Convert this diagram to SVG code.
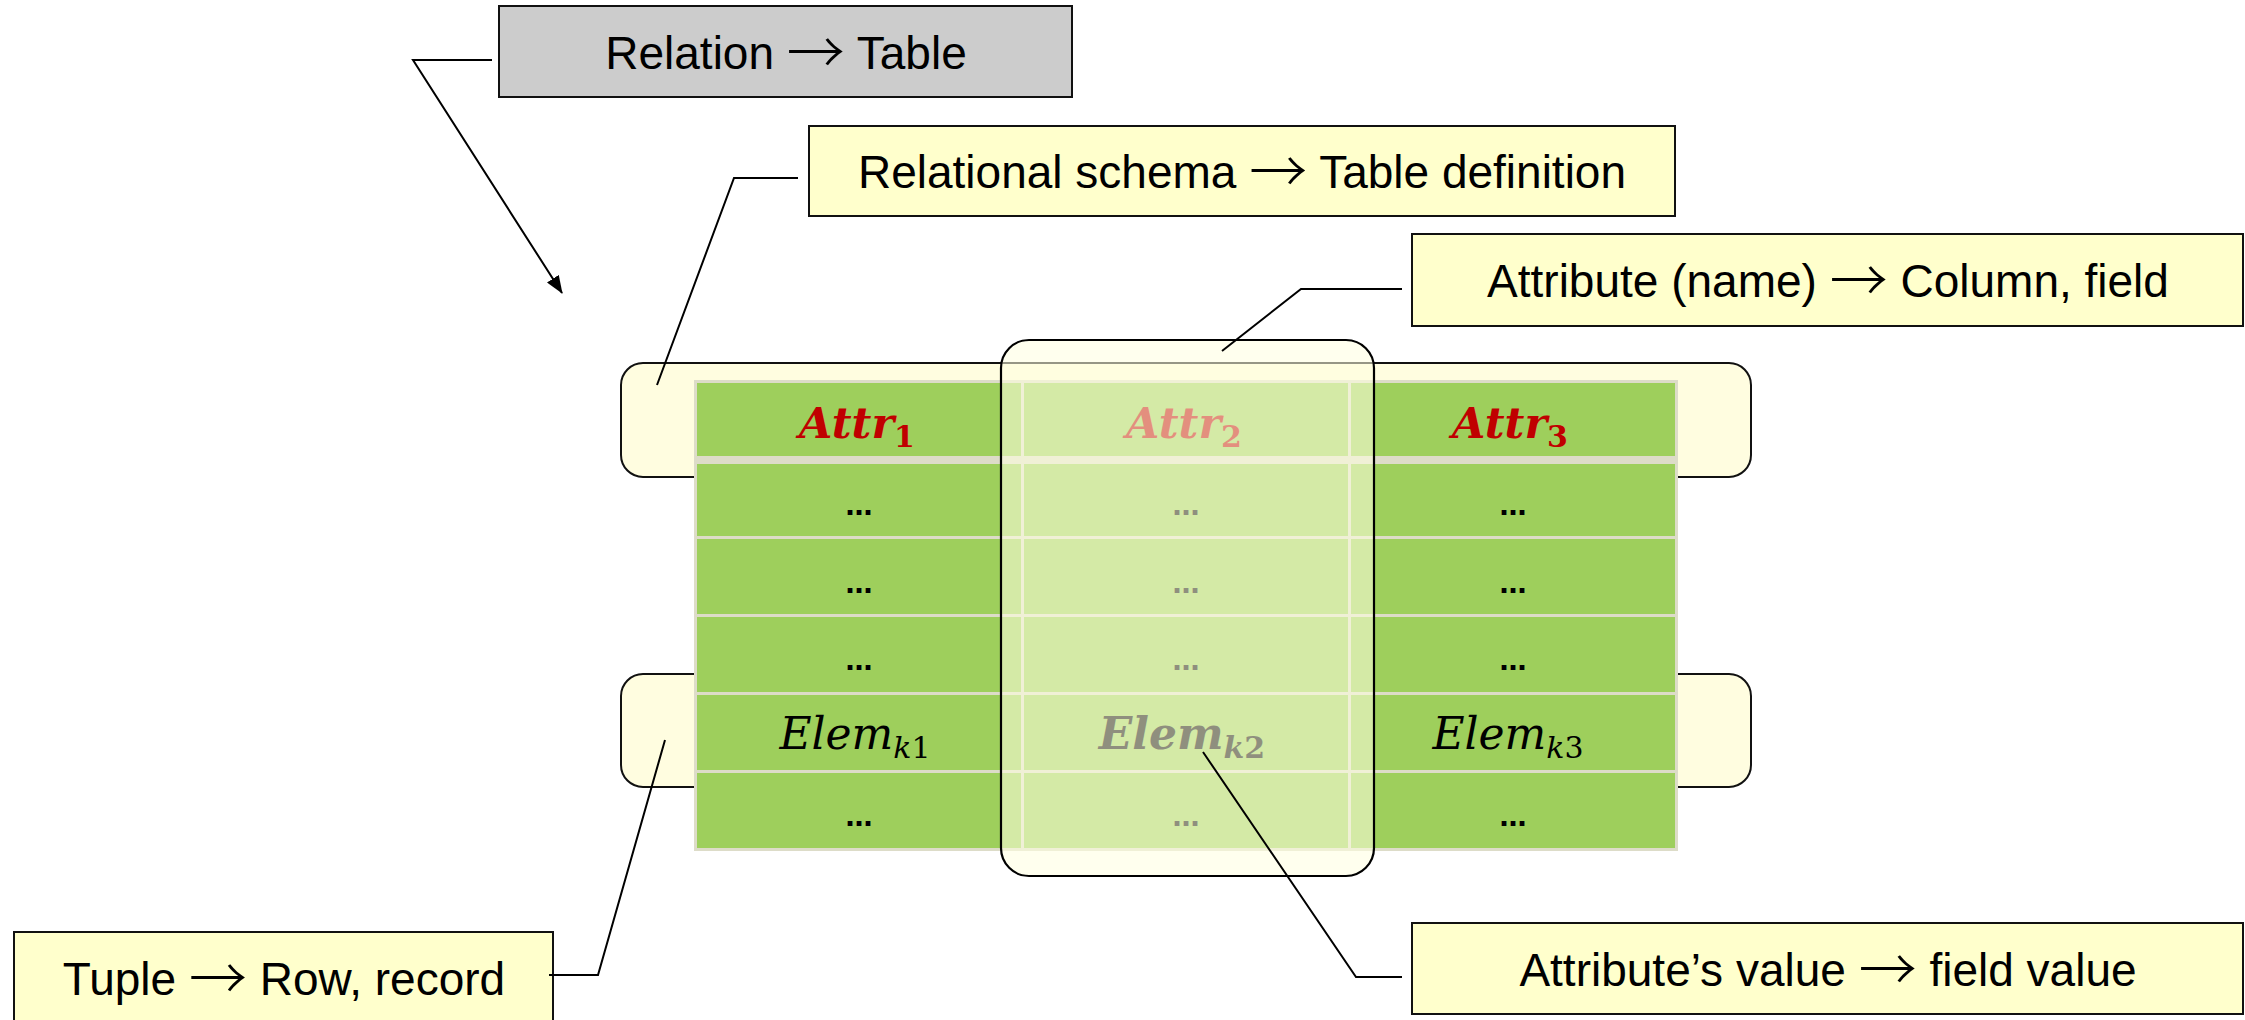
<svg xmlns="http://www.w3.org/2000/svg" width="2245" height="1020" viewBox="0 0 2245 1020">
  <defs>
    <marker id="arrowBig" viewBox="0 0 18 14" refX="17" refY="7" markerWidth="18" markerHeight="14" markerUnits="userSpaceOnUse" orient="auto">
      <path d="M0,0 L18,7 L0,14 Z" fill="#000"/>
    </marker>
  </defs>
  <style>
    .callout { fill: #FFFFCC; stroke: #111; stroke-width: 2; }
    .callout-gray { fill: #CCCCCC; stroke: #111; stroke-width: 2; }
    .label { font-family: "Liberation Sans", Arial, sans-serif; font-size: 46px; fill: #000; text-anchor: middle; }
    .arr { font-family: "Noto Sans CJK SC", "DejaVu Sans", sans-serif; font-weight: 300; font-size: 58px; }
    .band { fill: #FFFDE0; stroke: #111; stroke-width: 2; }
    .cells { fill: #88CB38; fill-opacity: 0.75; }
    .grid { stroke: #DDDCC8; fill: none; }
    .head { font-family: "DejaVu Serif", "Liberation Serif", serif; font-style: italic; font-weight: bold; font-size: 43px; fill: #C00000; text-anchor: middle; }
    .elem { font-family: "DejaVu Serif", "Liberation Serif", serif; font-style: italic; font-size: 44px; fill: #000; text-anchor: middle; }
    .elem-b { font-weight: bold; }
    .dots { font-family: "DejaVu Sans", "Liberation Sans", sans-serif; font-weight: bold; font-size: 27px; fill: #000; text-anchor: middle; }
    .sub { font-size: 30px; font-style: normal; }
    .subk { font-size: 30px; }
    .column { fill: #FFFFE0; fill-opacity: 0.56; stroke: #000; stroke-width: 2.2; }
    .conn { fill: none; stroke: #000; stroke-width: 2; }
  </style>

  <!-- row highlight bands, sitting behind the table -->
  <g id="tuple-band-header">
    <rect class="band" x="621" y="363" width="1130" height="114" rx="22"/>
  </g>
  <g id="tuple-band-k">
    <rect class="band" x="621" y="674" width="1130" height="113" rx="22"/>
  </g>

  <!-- the table -->
  <g id="table">
    <rect x="694" y="380" width="984" height="471" fill="#DDDCC8"/>
    <rect class="cells" x="697" y="383" width="978" height="465"/>
    <!-- grid lines -->
    <line class="grid" x1="696" y1="460" x2="1676" y2="460" stroke-width="8"/>
    <line class="grid" x1="696" y1="537.5" x2="1676" y2="537.5" stroke-width="3"/>
    <line class="grid" x1="696" y1="615.5" x2="1676" y2="615.5" stroke-width="3"/>
    <line class="grid" x1="696" y1="693.5" x2="1676" y2="693.5" stroke-width="3"/>
    <line class="grid" x1="696" y1="771.5" x2="1676" y2="771.5" stroke-width="3"/>
    <line class="grid" x1="1022.5" y1="382" x2="1022.5" y2="849" stroke-width="3"/>
    <line class="grid" x1="1349.5" y1="382" x2="1349.5" y2="849" stroke-width="3"/>

    <!-- header row -->
    <text class="head" x="857" y="438">Attr<tspan class="sub" dy="9">1</tspan></text>
    <text class="head" x="1184" y="438">Attr<tspan class="sub" dy="9">2</tspan></text>
    <text class="head" x="1510" y="438">Attr<tspan class="sub" dy="9">3</tspan></text>

    <!-- body rows -->
    <text class="dots" x="859" y="515">…</text>
    <text class="dots" x="1186" y="515">…</text>
    <text class="dots" x="1513" y="515">…</text>

    <text class="dots" x="859" y="593">…</text>
    <text class="dots" x="1186" y="593">…</text>
    <text class="dots" x="1513" y="593">…</text>

    <text class="dots" x="859" y="670">…</text>
    <text class="dots" x="1186" y="670">…</text>
    <text class="dots" x="1513" y="670">…</text>

    <text class="elem" x="855" y="749">Elem<tspan class="subk" dy="9">k</tspan><tspan class="sub">1</tspan></text>
    <text class="elem elem-b" x="1182" y="749">Elem<tspan class="subk" dy="9">k</tspan><tspan class="sub">2</tspan></text>
    <text class="elem" x="1508" y="749">Elem<tspan class="subk" dy="9">k</tspan><tspan class="sub">3</tspan></text>

    <text class="dots" x="859" y="826">…</text>
    <text class="dots" x="1186" y="826">…</text>
    <text class="dots" x="1513" y="826">…</text>
  </g>

  <!-- column highlight over the second attribute -->
  <g id="attribute-column">
    <rect class="column" x="1001" y="340" width="373" height="536" rx="28"/>
  </g>

  <!-- callout boxes -->
  <g id="relation">
    <rect class="callout-gray" x="499" y="6" width="573" height="91"/>
    <text class="label" x="786" y="69">Relation <tspan class="arr" dy="5">→</tspan><tspan dy="-5"> Table</tspan></text>
  </g>
  <g id="schema">
    <rect class="callout" x="809" y="126" width="866" height="90"/>
    <text class="label" x="1242" y="188">Relational schema <tspan class="arr" dy="5">→</tspan><tspan dy="-5"> Table definition</tspan></text>
  </g>
  <g id="attribute-name">
    <rect class="callout" x="1412" y="234" width="831" height="92"/>
    <text class="label" x="1828" y="297">Attribute (name) <tspan class="arr" dy="5">→</tspan><tspan dy="-5"> Column, field</tspan></text>
  </g>
  <g id="tuple">
    <rect class="callout" x="14" y="932" width="539" height="92"/>
    <text class="label" x="284" y="995">Tuple <tspan class="arr" dy="5">→</tspan><tspan dy="-5"> Row, record</tspan></text>
  </g>
  <g id="attribute-value">
    <rect class="callout" x="1412" y="923" width="831" height="91"/>
    <text class="label" x="1828" y="986">Attribute’s value <tspan class="arr" dy="5">→</tspan><tspan dy="-5"> field value</tspan></text>
  </g>

  <!-- connectors -->
  <g id="connectors">
    <polyline class="conn" points="492,60 413,60 562,293" marker-end="url(#arrowBig)"/>
    <polyline class="conn" points="798,178 734,178 657,385"/>
    <polyline class="conn" points="1402,289 1301,289 1222,351"/>
    <polyline class="conn" points="549,975 598,975 665,740"/>
    <polyline class="conn" points="1402,977 1356,977 1203,752"/>
  </g>
</svg>
